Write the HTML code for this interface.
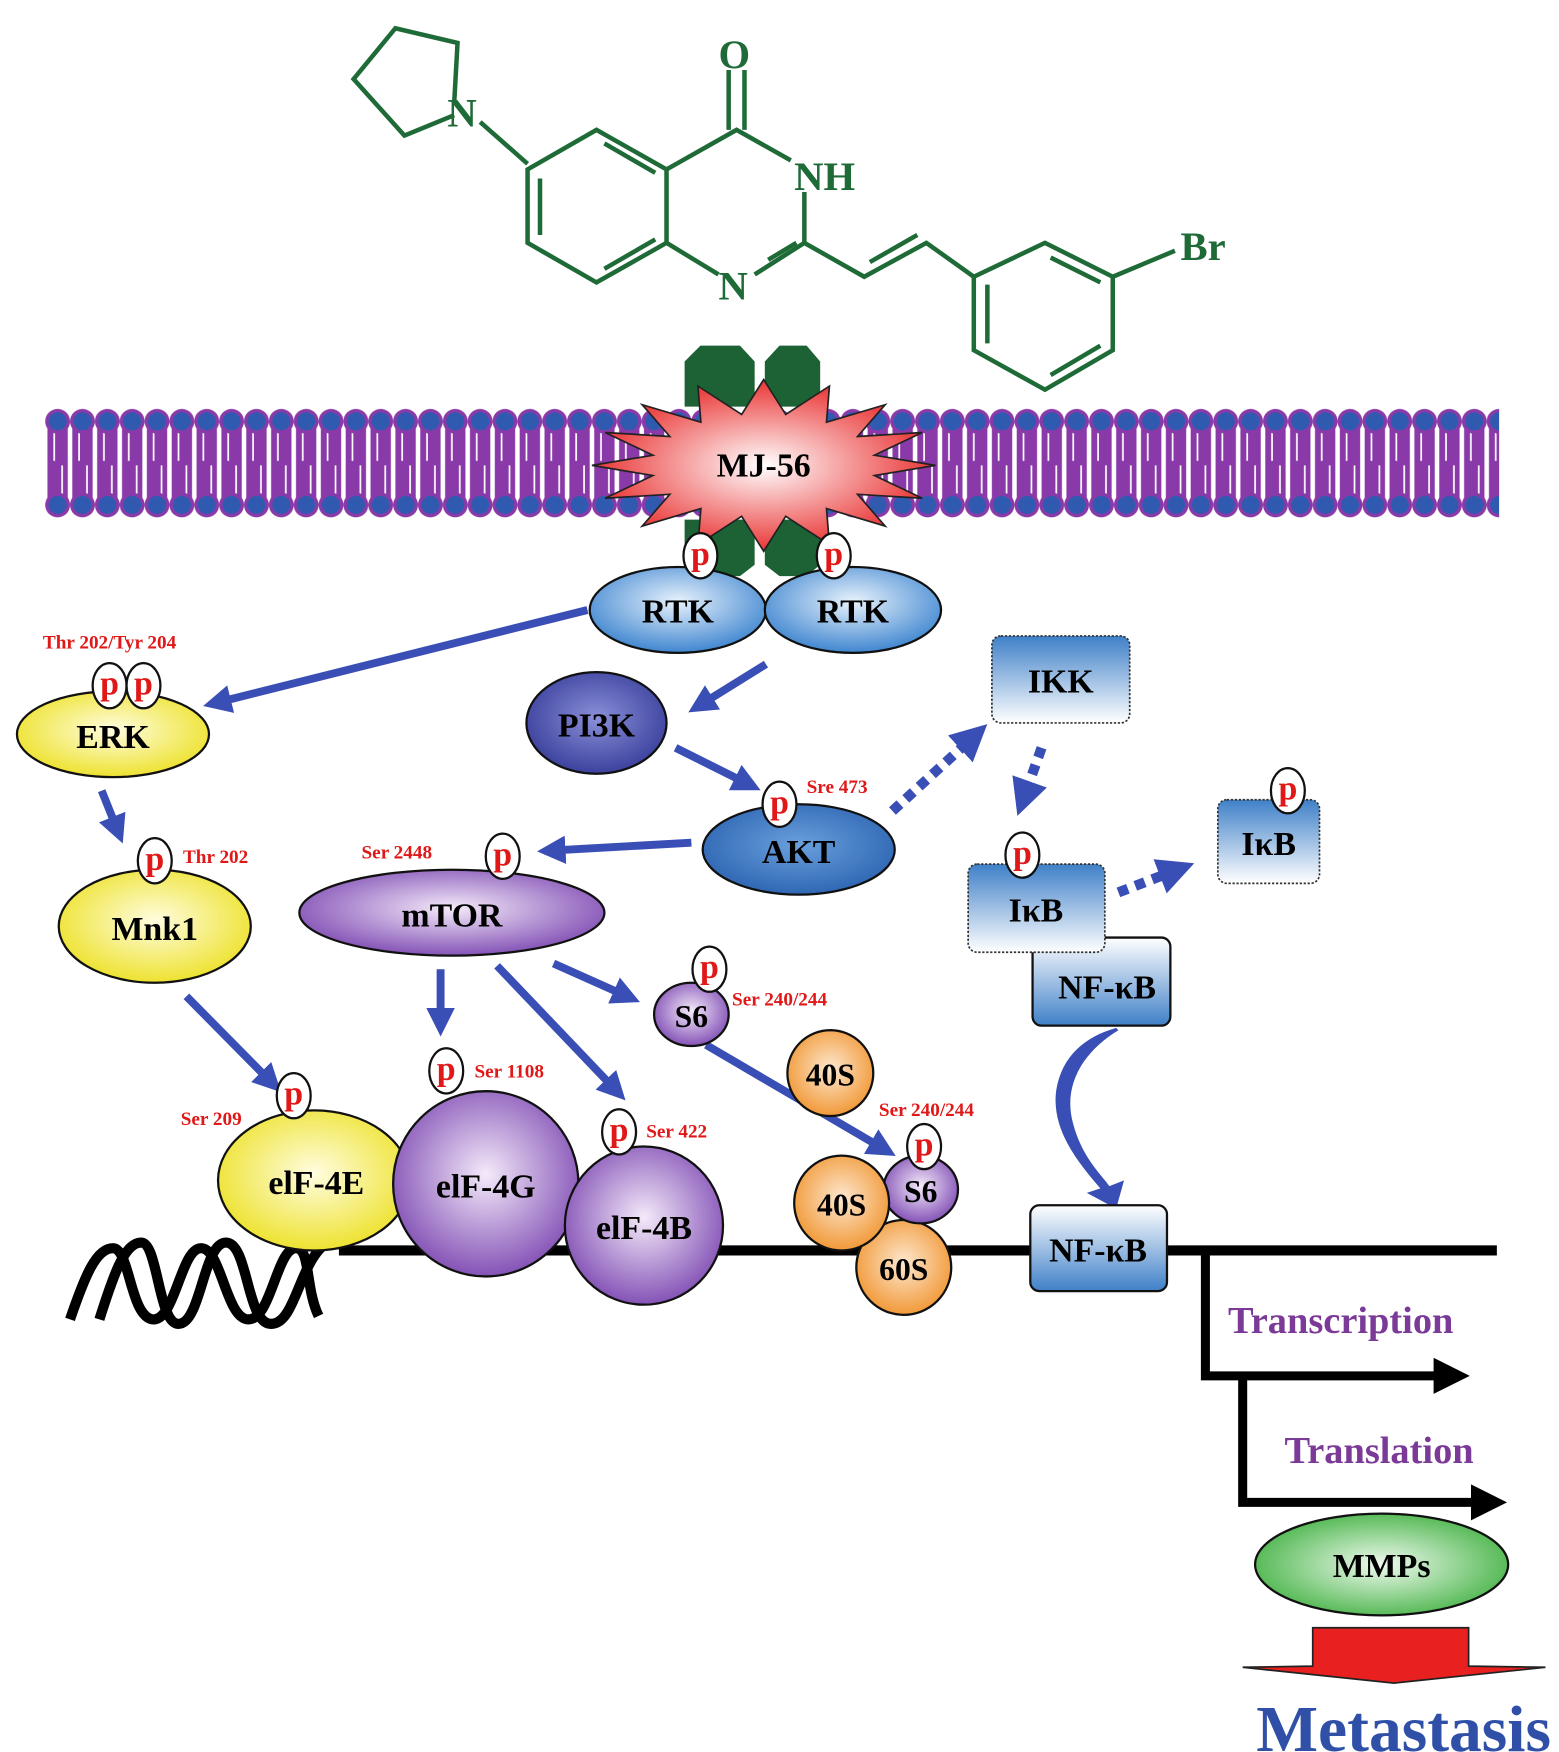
<!DOCTYPE html>
<html><head><meta charset="utf-8"><style>
html,body{margin:0;padding:0;background:#fff;}
svg{display:block;}
text{font-family:"Liberation Serif",serif;font-weight:bold;}
</style></head><body>
<svg width="1559" height="1752" viewBox="0 0 1380 1551" preserveAspectRatio="none" xmlns="http://www.w3.org/2000/svg">
<defs>
<radialGradient id="gBlue" cx="50%" cy="40%" r="60%"><stop offset="0" stop-color="#e8f2fc"/><stop offset="1" stop-color="#3f86d0"/></radialGradient>
<radialGradient id="gAkt" cx="50%" cy="45%" r="60%"><stop offset="0" stop-color="#6aa0dc"/><stop offset="1" stop-color="#2a62b0"/></radialGradient>
<radialGradient id="gPi3k" cx="50%" cy="45%" r="60%"><stop offset="0" stop-color="#8a90d8"/><stop offset="1" stop-color="#353a98"/></radialGradient>
<radialGradient id="gYel" cx="50%" cy="45%" r="60%"><stop offset="0" stop-color="#fffde0"/><stop offset="1" stop-color="#ece020"/></radialGradient>
<radialGradient id="gPur" cx="50%" cy="45%" r="60%"><stop offset="0" stop-color="#f4eafa"/><stop offset="1" stop-color="#7a45b0"/></radialGradient>
<radialGradient id="gOr" cx="50%" cy="45%" r="60%"><stop offset="0" stop-color="#fde8d0"/><stop offset="1" stop-color="#f0922a"/></radialGradient>
<radialGradient id="gGr" cx="50%" cy="50%" r="60%"><stop offset="0" stop-color="#f0faf0"/><stop offset="1" stop-color="#3aae3a"/></radialGradient>
<radialGradient id="gRed" cx="50%" cy="50%" r="55%"><stop offset="0" stop-color="#fff"/><stop offset="1" stop-color="#e82020"/></radialGradient>
<linearGradient id="gBoxD" x1="0" y1="0" x2="0" y2="1"><stop offset="0" stop-color="#3f80c8"/><stop offset="1" stop-color="#fff"/></linearGradient>
<linearGradient id="gBoxU" x1="0" y1="0" x2="0" y2="1"><stop offset="0" stop-color="#fff"/><stop offset="1" stop-color="#3f80c8"/></linearGradient>
<marker id="ah" viewBox="0 0 10 10" refX="5" refY="5" markerWidth="3.6" markerHeight="3.6" orient="auto" markerUnits="strokeWidth"><path d="M0,0 L10,5 L0,10 z" fill="#3a4fb5"/></marker>
<marker id="ahk" viewBox="0 0 10 10" refX="5" refY="5" markerWidth="4" markerHeight="4" orient="auto" markerUnits="strokeWidth"><path d="M0,0 L10,5 L0,10 z" fill="#000"/></marker>
<pattern id="memb" x="40" y="360" width="22" height="100" patternUnits="userSpaceOnUse">
<rect x="2" y="10" width="18" height="80" fill="#8a3aa8"/>
<line x1="8" y1="22" x2="8" y2="48" stroke="#fff" stroke-width="1.5"/>
<line x1="15" y1="52" x2="15" y2="78" stroke="#fff" stroke-width="1.5"/>
<circle cx="11" cy="13" r="11" fill="#8a3aa8"/><circle cx="11" cy="13" r="8" fill="#2f5ab0"/>
<circle cx="11" cy="87" r="11" fill="#8a3aa8"/><circle cx="11" cy="87" r="8" fill="#2f5ab0"/>
</pattern>
</defs>

<!-- molecule -->
<g stroke="#1f6b38" stroke-width="4" fill="none">
<polyline points="402,92 405,38 350,25 313,70 358,120 402,102"/>
<line x1="425" y1="108" x2="467" y2="145"/>
<polygon points="467,150 528,115 590,150 590,215 528,250 467,215"/>
<line x1="478" y1="158" x2="478" y2="208"/><line x1="535" y1="127" x2="580" y2="153"/><line x1="535" y1="238" x2="580" y2="212"/>
<polyline points="590,150 652,115 700,142"/>
<line x1="645" y1="115" x2="645" y2="62"/><line x1="659" y1="115" x2="659" y2="62"/>
<polyline points="712,170 712,215 668,243"/>
<line x1="636" y1="243" x2="590" y2="215"/>
<line x1="680" y1="230" x2="705" y2="215"/>
<polyline points="712,215 765,245 820,215 862,245"/>
<line x1="770" y1="232" x2="812" y2="208"/>
<polygon points="862,245 925,215 985,245 985,310 925,345 862,310"/>
<line x1="874" y1="252" x2="874" y2="304"/><line x1="930" y1="228" x2="974" y2="250"/><line x1="930" y1="332" x2="974" y2="306"/>
<line x1="985" y1="245" x2="1040" y2="222"/>
</g>
<g fill="#1f6b38" font-size="36">
<text x="396" y="112">N</text><text x="636" y="60">O</text><text x="703" y="168">NH</text><text x="636" y="265">N</text><text x="1045" y="230">Br</text>
</g>

<!-- membrane -->
<rect x="40" y="360" width="1287" height="100" fill="url(#memb)"/>
<!-- receptors -->
<g fill="#1d6234">
<polygon points="620,306 655,306 668,320 668,360 606,360 606,320"/>
<polygon points="690,306 714,306 726,320 726,360 677,360 677,320"/>
<polygon points="606,460 668,460 668,500 655,510 620,510 606,500"/>
<polygon points="677,460 726,460 726,500 714,510 690,510 677,500"/>
</g>
<polygon id="star" fill="url(#gRed)" stroke="#222" stroke-width="1.5" points=""/>
<text x="676" y="422" font-size="30" text-anchor="middle">MJ-56</text>

<!-- RTK -->
<ellipse cx="600" cy="540" rx="78" ry="38" fill="url(#gBlue)" stroke="#111" stroke-width="2"/>
<ellipse cx="755" cy="540" rx="78" ry="38" fill="url(#gBlue)" stroke="#111" stroke-width="2"/>
<text x="600" y="551" font-size="30" text-anchor="middle">RTK</text>
<text x="755" y="551" font-size="30" text-anchor="middle">RTK</text>

<!-- arrows -->
<g stroke="#3a4fb5" stroke-width="7" fill="none" marker-end="url(#ah)">
<line x1="520" y1="540" x2="192" y2="622"/>
<line x1="678" y1="588" x2="620" y2="624"/>
<line x1="598" y1="662" x2="662" y2="694"/>
<line x1="612" y1="746" x2="488" y2="753"/>
<line x1="90" y1="700" x2="104" y2="735"/>
<line x1="390" y1="858" x2="390" y2="905"/>
<line x1="440" y1="855" x2="545" y2="965"/>
<line x1="490" y1="853" x2="555" y2="882"/>
<line x1="165" y1="882" x2="240" y2="958"/>
<line x1="625" y1="925" x2="782" y2="1017"/>
</g>
<g stroke="#3a4fb5" stroke-width="9" fill="none" stroke-dasharray="9,7" marker-end="url(#ah)">
<line x1="790" y1="718" x2="862" y2="652"/>
<line x1="922" y1="662" x2="906" y2="707"/>
<line x1="990" y1="790" x2="1042" y2="770"/>
</g>

<!-- ERK, Mnk1 -->
<ellipse cx="100" cy="650" rx="85" ry="38" fill="url(#gYel)" stroke="#111" stroke-width="2"/>
<text x="100" y="662" font-size="30" text-anchor="middle">ERK</text>
<text x="38" y="574" font-size="17" fill="#e01818">Thr 202/Tyr 204</text>
<ellipse cx="137" cy="820" rx="85" ry="50" fill="url(#gYel)" stroke="#111" stroke-width="2"/>
<text x="137" y="832" font-size="30" text-anchor="middle">Mnk1</text>
<text x="162" y="764" font-size="17" fill="#e01818">Thr 202</text>

<!-- PI3K, AKT -->
<ellipse cx="528" cy="640" rx="62" ry="45" fill="url(#gPi3k)" stroke="#111" stroke-width="2"/>
<text x="528" y="652" font-size="30" text-anchor="middle">PI3K</text>
<ellipse cx="707" cy="752" rx="85" ry="40" fill="url(#gAkt)" stroke="#111" stroke-width="2"/>
<text x="707" y="764" font-size="30" text-anchor="middle">AKT</text>
<text x="714" y="702" font-size="17" fill="#e01818">Sre 473</text>

<!-- mTOR -->
<ellipse cx="400" cy="808" rx="135" ry="38" fill="url(#gPur)" stroke="#111" stroke-width="2"/>
<text x="400" y="820" font-size="30" text-anchor="middle">mTOR</text>
<text x="320" y="760" font-size="17" fill="#e01818">Ser 2448</text>

<!-- S6 & 40S -->
<ellipse cx="612" cy="898" rx="33" ry="28" fill="url(#gPur)" stroke="#111" stroke-width="2"/>
<text x="612" y="909" font-size="28" text-anchor="middle">S6</text>
<text x="648" y="890" font-size="17" fill="#e01818">Ser 240/244</text>
<circle cx="735" cy="950" r="38" fill="url(#gOr)" stroke="#111" stroke-width="2"/>
<text x="735" y="961" font-size="28" text-anchor="middle">40S</text>

<!-- IKK / IkB / NFkB -->
<rect x="878" y="563" width="122" height="77" rx="8" fill="url(#gBoxD)" stroke="#333" stroke-width="1.5" stroke-dasharray="2,1.5"/>
<text x="939" y="613" font-size="30" text-anchor="middle">IKK</text>
<rect x="914" y="830" width="122" height="78" rx="8" fill="url(#gBoxU)" stroke="#111" stroke-width="2"/>
<text x="980" y="884" font-size="30" text-anchor="middle">NF-κB</text>
<rect x="857" y="765" width="121" height="78" rx="8" fill="url(#gBoxD)" stroke="#333" stroke-width="1.5" stroke-dasharray="2,1.5"/>
<text x="917" y="816" font-size="30" text-anchor="middle">IκB</text>
<rect x="1078" y="708" width="90" height="74" rx="8" fill="url(#gBoxD)" stroke="#333" stroke-width="1.5" stroke-dasharray="2,1.5"/>
<text x="1123" y="757" font-size="30" text-anchor="middle">IκB</text>

<!-- curved arrow -->
<path d="M990,912 C960,930 940,960 950,995 C958,1025 975,1040 982,1050 L995,1045 L988,1070 L962,1056 L974,1052 C955,1030 930,1000 935,965 C940,935 960,918 988,910 Z" fill="#3a4fb5"/>

<!-- DNA -->
<line x1="300" y1="1107" x2="1325" y2="1107" stroke="#000" stroke-width="9"/>
<polyline points="1067,1107 1067,1218 1285,1218" fill="none" stroke="#000" stroke-width="8" marker-end="url(#ahk)"/>
<polyline points="1100,1218 1100,1330 1318,1330" fill="none" stroke="#000" stroke-width="8" marker-end="url(#ahk)"/>
<path d="M62,1168 C75,1130 85,1105 100,1105 C115,1105 115,1165 135,1168 C155,1170 160,1105 178,1105 C196,1105 200,1168 220,1168 C240,1168 245,1105 262,1105 C275,1105 270,1140 282,1165" fill="none" stroke="#000" stroke-width="9"/>
<path d="M88,1168 C100,1130 110,1100 125,1100 C140,1100 140,1172 158,1172 C178,1172 180,1100 200,1100 C220,1100 218,1172 240,1172 C262,1172 265,1115 290,1100" fill="none" stroke="#000" stroke-width="9"/>

<!-- translation complex -->
<ellipse cx="278" cy="1045" rx="85" ry="62" fill="url(#gYel)" stroke="#111" stroke-width="2"/>
<text x="280" y="1057" font-size="30" text-anchor="middle">elF-4E</text>
<text x="160" y="996" font-size="17" fill="#e01818">Ser 209</text>
<circle cx="430" cy="1048" r="82" fill="url(#gPur)" stroke="#111" stroke-width="2"/>
<text x="430" y="1060" font-size="30" text-anchor="middle">elF-4G</text>
<text x="420" y="954" font-size="17" fill="#e01818">Ser 1108</text>
<circle cx="570" cy="1085" r="70" fill="url(#gPur)" stroke="#111" stroke-width="2"/>
<text x="570" y="1097" font-size="30" text-anchor="middle">elF-4B</text>
<text x="572" y="1007" font-size="17" fill="#e01818">Ser 422</text>

<circle cx="800" cy="1122" r="42" fill="url(#gOr)" stroke="#111" stroke-width="2"/>
<text x="800" y="1133" font-size="28" text-anchor="middle">60S</text>
<ellipse cx="815" cy="1053" rx="33" ry="30" fill="url(#gPur)" stroke="#111" stroke-width="2"/>
<text x="815" y="1064" font-size="28" text-anchor="middle">S6</text>
<circle cx="745" cy="1065" r="42" fill="url(#gOr)" stroke="#111" stroke-width="2"/>
<text x="745" y="1076" font-size="28" text-anchor="middle">40S</text>
<text x="778" y="988" font-size="17" fill="#e01818">Ser 240/244</text>

<rect x="912" y="1067" width="121" height="76" rx="8" fill="url(#gBoxU)" stroke="#111" stroke-width="2"/>
<text x="972" y="1117" font-size="30" text-anchor="middle">NF-κB</text>

<!-- p circles -->
<g id="ps"></g>

<text x="1087" y="1180" font-size="34" fill="#7b3a98">Transcription</text>
<text x="1137" y="1295" font-size="34" fill="#7b3a98">Translation</text>

<ellipse cx="1223" cy="1385" rx="112" ry="45" fill="url(#gGr)" stroke="#111" stroke-width="2"/>
<text x="1223" y="1396" font-size="30" text-anchor="middle">MMPs</text>
<polygon points="1162,1441 1300,1441 1300,1475 1368,1476 1234,1490 1100,1476 1162,1475" fill="#e82020" stroke="#222" stroke-width="1.5"/>
<text x="1112" y="1550" font-size="58" fill="#3050a8">Metastasis</text>
</svg>
<script>
(function(){
var pts=[],n=16,cx=676,cy=412;
for(var i=0;i<n*2;i++){var a=Math.PI*i/n;var o=i%2==0;var rx=o?152:100,ry=o?76:46;pts.push((cx+rx*Math.cos(a)).toFixed(1)+","+(cy+ry*Math.sin(a)).toFixed(1));}
document.getElementById('star').setAttribute('points',pts.join(' '));
var ps=[[620,492],[738,492],[97,607],[127,607],[137,762],[690,712],[445,758],[905,757],[1140,700],[628,858],[260,970],[395,948],[548,1002],[818,1015]];
var g=document.getElementById('ps'),ns="http://www.w3.org/2000/svg";
ps.forEach(function(p){var e=document.createElementNS(ns,'ellipse');e.setAttribute('cx',p[0]);e.setAttribute('cy',p[1]);e.setAttribute('rx',15);e.setAttribute('ry',20);e.setAttribute('fill','#fff');e.setAttribute('stroke','#111');e.setAttribute('stroke-width','2');g.appendChild(e);
var t=document.createElementNS(ns,'text');t.setAttribute('x',p[0]);t.setAttribute('y',p[1]+8);t.setAttribute('font-size','30');t.setAttribute('fill','#e01818');t.setAttribute('text-anchor','middle');t.textContent='p';g.appendChild(t);});
})();
</script>
</body></html>
